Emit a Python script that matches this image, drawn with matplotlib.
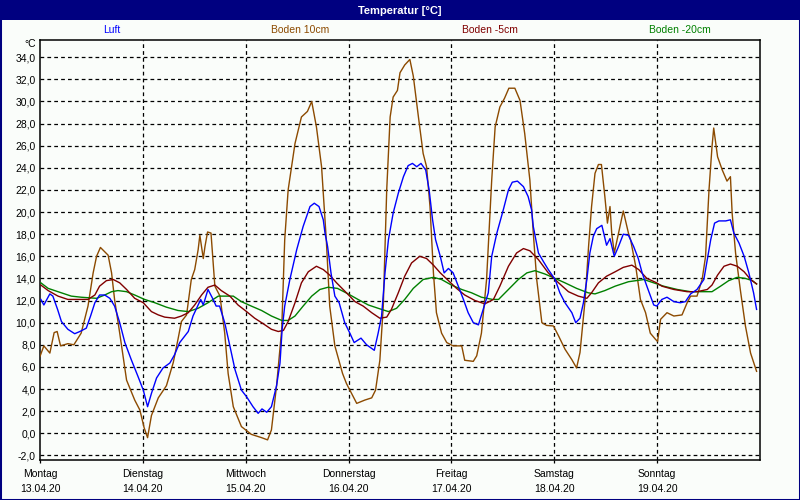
import matplotlib
matplotlib.use("Agg")
import matplotlib.pyplot as plt
from matplotlib.patches import Rectangle
from matplotlib.transforms import blended_transform_factory

plt.rcParams['font.family'] = ['Liberation Sans', 'DejaVu Sans']

# Messwerte, Zeit in Stunden ab Montag 13.04.20 00:00
luft_h = [0.2, 0.9, 2.3, 3.0, 4.1, 5.0, 6.5, 8.1, 9.3, 10.8, 11.8, 12.8, 13.9, 15.1, 16.3, 17.4,
          18.6, 19.8, 21.3, 22.9, 24.1, 25.1, 26.0, 27.2, 28.7, 30.3, 31.4, 32.6, 33.8, 34.6,
          35.7, 36.9, 37.5, 38.1, 39.2, 40.4, 41.1, 41.9, 43.1, 44.3, 45.5, 47.0, 48.2, 49.7,
          50.9, 51.8, 52.9, 54.0, 55.2, 56.0, 56.5, 57.1, 58.3, 59.9, 61.4, 63.0, 64.0, 65.1,
          66.1, 66.5, 67.1, 67.9, 68.8, 69.8, 71.1, 72.3, 73.3, 74.9, 76.2, 78.0, 78.9, 79.7,
          80.5, 81.3, 82.4, 83.6, 84.8, 85.9, 86.9, 87.9, 88.9, 90.0, 90.8, 91.6, 92.3, 93.4,
          94.3, 95.3, 96.4, 97.6, 98.8, 99.9, 101.1, 102.3, 103.4, 104.6, 105.4, 106.6, 108.1,
          109.3, 110.2, 111.4, 112.8, 113.9, 114.7, 115.1, 115.7, 116.3, 117.5, 118.6, 120.2,
          121.3, 122.5, 124.1, 125.0, 126.0, 126.8, 127.6, 128.3, 129.1, 129.9, 131.1, 132.2,
          133.0, 134.0, 135.0, 136.1, 137.3, 138.5, 139.6, 140.5, 141.6, 143.2, 143.9, 145.1,
          146.3, 147.9, 149.4, 150.6, 151.8, 153.3, 154.9, 155.7, 156.5, 157.4, 158.4, 160.0,
          161.1, 161.9, 163.1, 164.3, 165.4, 166.5, 167.2]
luft = [12.1, 11.6, 12.6, 12.4, 11.2, 10.1, 9.4, 9.0, 9.2, 9.5, 10.6, 11.8, 12.5, 12.5, 12.2, 11.5,
        10.0, 8.2, 6.65, 5.1, 3.9, 2.4, 3.6, 5.0, 5.9, 6.35, 7.1, 8.2, 8.8, 9.2,
        10.6, 11.6, 12.1, 11.6, 13.0, 12.1, 11.5, 11.5, 10.0, 7.9, 5.75, 3.9, 3.3, 2.4,
        1.8, 2.2, 1.9, 2.4, 4.3, 6.35, 9.4, 11.5, 13.9, 16.6, 18.7, 20.5, 20.8, 20.5,
        19.3, 18.1, 16.9, 14.5, 12.4, 11.8, 10.0, 9.05, 8.2, 8.6, 8.0, 7.5, 9.05, 10.6,
        14.5, 17.5, 19.9, 21.7, 23.2, 24.2, 24.4, 24.1, 24.4, 23.8, 22.0, 19.3, 17.5, 16.0,
        14.5, 14.9, 14.5, 13.3, 12.1, 10.9, 10.0, 9.8, 11.2, 12.7, 16.0, 18.1, 20.2,
        22.0, 22.7, 22.8, 22.3, 21.4, 20.2, 18.7, 17.5, 16.3, 15.5, 14.8, 13.9,
        12.7, 11.8, 10.9, 10.0, 10.4, 11.8, 13.9, 16.3, 17.8, 18.5, 18.8, 17.0,
        17.6, 16.0, 16.9, 18.0, 17.9, 16.9, 15.8, 14.5, 13.3, 11.6, 11.5, 12.1,
        12.3, 11.9, 11.8, 11.9, 12.6, 13.0, 13.9, 15.7, 17.5, 19.0, 19.2, 19.2,
        19.3, 18.1, 17.2, 16.0, 14.5, 12.7, 11.2]

boden10_h = [0.0, 0.9, 2.3, 3.3, 4.0, 4.8, 6.5, 7.9, 9.6, 11.2, 12.4, 13.2, 14.1, 15.9, 16.7, 17.4,
             18.6, 20.2, 22.1, 23.3, 24.3, 25.1, 26.0, 27.6, 29.5, 31.1, 32.2, 33.0, 34.2, 35.3,
             36.1, 36.9, 37.3, 38.1, 38.5, 39.1, 39.9, 40.8, 42.0, 43.1, 43.9, 45.1, 47.0, 49.3,
             51.7, 53.1, 54.0, 55.2, 56.4, 57.1, 57.9, 59.5, 61.0, 62.4, 63.4, 64.5, 65.7, 66.8,
             67.6, 68.8, 70.6, 71.5, 73.9, 75.8, 77.4, 78.3, 79.3, 80.1, 80.9, 81.7, 82.4, 83.4,
             84.0, 85.1, 86.3, 87.1, 88.3, 89.4, 90.2, 91.0, 91.8, 92.5, 93.7, 94.9, 96.4, 98.4,
             99.1, 101.1, 101.9, 103.0, 104.2, 105.4, 106.2, 107.3, 108.4, 109.4, 110.8, 112.0,
             113.1, 114.3, 115.1, 115.9, 117.1, 118.2, 119.8, 121.0, 122.5, 124.1, 125.2, 126.0,
             127.2, 128.0, 128.7, 129.5, 130.3, 131.0, 131.8, 132.4, 133.0, 133.4, 134.0, 135.0,
             136.1, 137.3, 137.8, 139.0, 140.1, 141.3, 142.4, 143.6, 144.1, 144.8, 146.3, 147.9,
             149.8, 151.0, 151.8, 153.3, 154.5, 155.3, 156.1, 156.8, 157.2, 158.1, 159.2, 160.3,
             161.1, 161.5, 162.3, 163.4, 164.6, 165.8, 167.2]
boden10 = [6.95, 7.9, 7.25, 9.1, 9.2, 7.9, 8.1, 8.0, 9.05, 11.5, 14.5, 16.0, 16.8, 16.1, 14.5, 12.1,
           9.05, 4.8, 3.0, 2.1, 0.5, -0.4, 1.6, 3.2, 4.3, 6.4, 8.5, 10.1, 10.7, 13.9,
           14.8, 16.6, 17.9, 15.8, 16.9, 18.2, 18.1, 13.3, 12.4, 9.05, 5.4, 2.4, 0.6, -0.1,
           -0.4, -0.6, 0.3, 4.3, 9.4, 17.5, 22.0, 26.2, 28.6, 29.1, 30.0, 27.7, 24.1, 17.5,
           11.5, 7.9, 5.4, 4.5, 2.7, 3.0, 3.2, 3.9, 6.6, 11.5, 22.0, 28.6, 30.4, 31.0,
           32.6, 33.3, 33.8, 32.3, 28.6, 25.3, 24.1, 20.5, 14.5, 10.9, 9.05, 8.2, 7.9, 7.9,
           6.6, 6.5, 7.0, 9.05, 13.9, 22.9, 27.7, 29.5, 30.3, 31.2, 31.2, 30.1,
           27.1, 22.9, 18.1, 13.9, 10.0, 9.75, 9.7, 8.8, 7.6, 6.65, 5.9, 7.3,
           12.1, 16.9, 20.5, 23.5, 24.3, 24.3, 21.4, 19.0, 20.5, 18.1, 16.3, 18.1,
           20.1, 18.1, 17.5, 15.1, 12.1, 10.9, 9.05, 8.5, 8.3, 10.3, 10.9, 10.6,
           10.7, 11.8, 12.4, 12.4, 13.9, 16.0, 22.0, 25.9, 27.6, 25.0, 23.8, 22.8,
           23.2, 19.9, 16.3, 13.0, 9.7, 7.25, 5.6]

boden5_h = [0.2, 1.9, 4.2, 6.5, 8.9, 11.2, 12.8, 13.9, 15.5, 17.1, 18.6, 20.2, 22.1, 24.1, 26.0,
            27.6, 29.1, 31.4, 33.0, 34.6, 36.1, 37.7, 39.2, 40.8, 42.3, 44.3, 46.2, 48.2, 50.1,
            52.1, 54.0, 55.6, 56.8, 57.9, 59.5, 61.0, 62.6, 64.5, 66.1, 67.6, 69.2, 71.5, 73.5,
            75.4, 77.4, 79.3, 80.9, 82.0, 83.6, 85.1, 86.7, 88.6, 90.2, 91.8, 93.4, 95.3, 97.2,
            99.1, 101.5, 103.8, 105.8, 107.3, 109.3, 111.2, 112.8, 114.3, 116.3, 118.6, 121.0,
            123.3, 125.6, 127.6, 128.7, 130.3, 132.2, 134.2, 136.1, 138.1, 139.7, 141.6, 143.9,
            145.1, 147.9, 151.0, 153.3, 155.7, 156.8, 158.1, 159.6, 161.1, 162.7, 164.3, 165.8,
            167.2]
boden5 = [13.4, 12.9, 12.4, 12.1, 12.1, 12.1, 12.5, 13.3, 13.8, 13.9, 13.6, 13.0, 12.2, 11.8, 11.0,
          10.7, 10.5, 10.4, 10.6, 10.9, 11.6, 12.5, 13.2, 13.4, 12.9, 12.4, 11.6, 11.0, 10.4,
          9.9, 9.4, 9.2, 9.3, 10.1, 11.8, 13.6, 14.6, 15.1, 14.8, 14.3, 13.6, 12.7, 11.9,
          11.5, 10.9, 10.4, 10.5, 11.2, 12.7, 14.2, 15.4, 16.0, 15.8, 15.2, 14.5, 13.8, 13.1,
          12.5, 12.0, 11.7, 12.1, 13.3, 15.1, 16.3, 16.7, 16.5, 15.7, 14.5, 13.6,
          12.8, 12.4, 12.2, 12.7, 13.6, 14.2, 14.6, 15.0, 15.2, 14.8, 14.0, 13.6,
          13.3, 13.0, 12.8, 12.8, 13.0, 13.4, 14.3, 15.1, 15.3, 15.1, 14.6, 13.9,
          13.5]

boden20_h = [0.2, 1.9, 4.2, 7.3, 9.6, 13.2, 15.1, 16.7, 18.2, 20.2, 22.1, 24.4, 26.8, 29.5, 32.2,
             34.6, 36.9, 39.2, 41.6, 43.1, 45.1, 47.0, 49.3, 51.7, 54.0, 56.4, 57.9, 59.5, 61.4,
             63.4, 65.3, 67.2, 69.4, 71.9, 74.2, 76.6, 78.9, 81.3, 83.2, 85.1, 87.1, 89.4, 91.8,
             93.7, 96.0, 98.4, 100.7, 103.0, 105.6, 107.0, 109.3, 111.6, 113.6, 115.5, 117.8,
             120.2, 122.5, 125.2, 127.9, 129.5, 131.8, 134.2, 137.3, 140.9, 143.2, 145.5, 148.7,
             151.8, 154.9, 156.8, 158.8, 160.7, 162.7, 164.6, 166.2, 167.2]
boden20 = [13.6, 13.1, 12.8, 12.4, 12.3, 12.2, 12.5, 12.8, 12.9, 12.8, 12.5, 12.1, 11.8, 11.4, 11.1,
           11.0, 11.3, 11.8, 12.4, 12.4, 12.4, 11.9, 11.5, 11.1, 10.6, 10.2, 10.2, 10.6, 11.5,
           12.4, 13.0, 13.2, 13.1, 12.6, 12.1, 11.6, 11.3, 11.0, 11.3, 12.1, 13.1, 13.9, 14.1,
           13.9, 13.4, 13.0, 12.7, 12.3, 12.1, 12.1, 13.0, 13.9, 14.5, 14.7, 14.4,
           14.0, 13.6, 13.1, 12.7, 12.6, 12.9, 13.3, 13.7, 13.9, 13.6, 13.3, 13.0,
           12.8, 12.8, 12.8, 13.3, 13.8, 14.1, 14.0, 13.8, 13.5]

tage = ['Montag', 'Dienstag', 'Mittwoch', 'Donnerstag', 'Freitag', 'Samstag', 'Sonntag']
datum = ['13.04.20', '14.04.20', '15.04.20', '16.04.20', '17.04.20', '18.04.20', '19.04.20']
y_ticks = list(range(-2, 36, 2))

serien = [('Luft', '#0000FF'), ('Boden 10cm', '#8C4A00'),
          ('Boden -5cm', '#800000'), ('Boden -20cm', '#008000')]
legend_x = [112, 300, 490, 680]

W, H = 800, 500
bg = '#FAFDFA'
fig = plt.figure(figsize=(8, 5), dpi=100)
fig.patch.set_facecolor(bg)

# Titelleiste
fig.patches.append(Rectangle((0, 1 - 20 / H), 1, 20 / H, transform=fig.transFigure,
                             facecolor='#000080', edgecolor='none'))
fig.text(0.5, 1 - 11 / H, 'Temperatur [°C]', color='white', fontweight='bold',
         ha='center', va='center', fontsize=8)
# Rahmen
fig.patches.append(Rectangle((0, 0), 1, 1, transform=fig.transFigure, fill=False,
                             edgecolor='#000080', lw=2.2))

for (name, col), lx in zip(serien, legend_x):
    fig.text(lx / W, 1 - 30 / H, name, color=col, ha='center', va='center', fontsize=7.5)

ax = fig.add_axes([40 / W, 40 / H, 720 / W, 420 / H])
ax.set_facecolor(bg)
ax.set_xlim(0, 168)
ax.set_ylim(-2.42, 35.56)

grid_ls = (0, (3, 2.5))
for y in y_ticks:
    ax.axhline(y, color='black', lw=0.9, ls=grid_ls, zorder=1)
for i in range(1, 7):
    ax.axvline(24 * i, color='black', lw=0.9, ls=grid_ls, zorder=1)

ax.plot(boden10_h, boden10, color='#8C4A00', lw=1.0, zorder=3)
ax.plot(boden20_h, boden20, color='#008000', lw=1.0, zorder=3)
ax.plot(boden5_h, boden5, color='#800000', lw=1.0, zorder=3)
ax.plot(luft_h, luft, color='#0000FF', lw=1.0, zorder=4)

ax.set_yticks(y_ticks)
ax.set_yticklabels([f'{v:.1f}'.replace('.', ',') for v in y_ticks])
ax.tick_params(axis='y', length=0, pad=3, labelsize=7.5)
ax.set_xticks([24 * i for i in range(7)])
ax.set_xticklabels([])
ax.tick_params(axis='x', length=2.5, direction='out', width=0.9)
for s in ax.spines.values():
    s.set_linewidth(1.1)

fig.text(36 / W, 1 - 44 / H, '°C', ha='right', va='center', fontsize=7.5)

trans = blended_transform_factory(ax.transData, fig.transFigure)
for i, (t, d) in enumerate(zip(tage, datum)):
    ax.text(24 * i, 1 - 474 / H, t, transform=trans, ha='center', va='center', fontsize=7.5)
    ax.text(24 * i, 1 - 489 / H, d, transform=trans, ha='center', va='center', fontsize=7.5)

fig.savefig('out.png', dpi=100, facecolor=bg)
